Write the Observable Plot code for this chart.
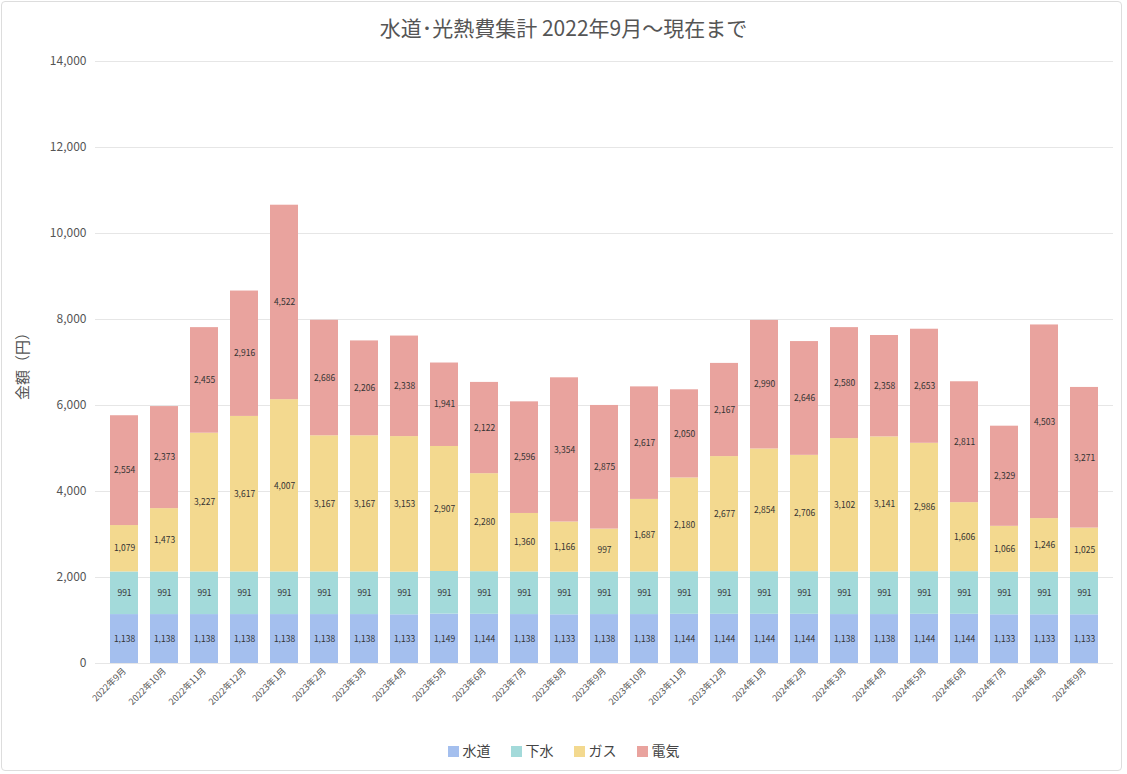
<!DOCTYPE html>
<html><head><meta charset="utf-8">
<script src="https://cdn.jsdelivr.net/npm/d3@7"></script>
<script src="https://cdn.jsdelivr.net/npm/@observablehq/plot@0.6"></script>
<style>
body{margin:0;font-family:"Noto Sans CJK JP","Noto Sans",sans-serif;background:#fff}
#wrap{position:absolute;left:1px;top:1px;width:1121px;height:770px;border:1px solid #ddd;border-radius:4px;box-sizing:border-box}
#title{position:absolute;left:0;top:12px;width:1127px;text-align:center;font-size:21px;color:#555}
#chart{position:absolute;left:0;top:45px}
#legend{position:absolute;left:0;top:740px;width:1127px;text-align:center;font-size:14px;color:#444}
#legend span{margin:0 10px}
#legend i{display:inline-block;width:11px;height:11px;margin-right:4px;vertical-align:-1px}
</style></head><body>
<div id="wrap"></div>
<div id="title">水道･光熱費集計 2022年9月～現在まで</div>
<div id="chart"></div>
<div id="legend"></div>
<script>
const months=["2022年9月","2022年10月","2022年11月","2022年12月","2023年1月","2023年2月","2023年3月","2023年4月","2023年5月","2023年6月","2023年7月","2023年8月","2023年9月","2023年10月","2023年11月","2023年12月","2024年1月","2024年2月","2024年3月","2024年4月","2024年5月","2024年6月","2024年7月","2024年8月","2024年9月"];
const series=["水道","下水","ガス","電気"];
const colors=["#a4bfee","#a3dada","#f3d98f","#e9a39e"];
const suido=[1138,1138,1138,1138,1138,1138,1138,1133,1149,1144,1138,1133,1138,1138,1144,1144,1144,1144,1138,1138,1144,1144,1133,1133,1133];
const gesui=[991,991,991,991,991,991,991,991,991,991,991,991,991,991,991,991,991,991,991,991,991,991,991,991,991];
const gas=[1079,1473,3227,3617,4007,3167,3167,3153,2907,2280,1360,1166,997,1687,2180,2677,2854,2706,3102,3141,2986,1606,1066,1246,1025];
const denki=[2554,2373,2455,2916,4522,2686,2206,2338,1941,2122,2596,3354,2875,2617,2050,2167,2990,2646,2580,2358,2653,2811,2329,4503,3271];
const vals=[suido,gesui,gas,denki];
const data=[];
series.forEach((s,i)=>months.forEach((m,j)=>data.push({month:m,type:s,value:vals[i][j]})));
const fmt=d3.format(",");
const chart=Plot.plot({
  width:1127,height:683,marginLeft:95,marginRight:14,marginTop:16,marginBottom:65,
  style:{fontFamily:"'Noto Sans CJK JP',sans-serif",color:"#555"},
  x:{domain:months,padding:0.3,label:null,tickSize:0,tickRotate:-45,tickPadding:6},
  y:{domain:[0,14000],ticks:d3.range(0,14001,2000),grid:true,label:"金額（円）",labelAnchor:"center",labelArrow:"none",tickSize:0,tickFormat:fmt,labelOffset:78},
  color:{domain:series,range:colors},
  marks:[
    Plot.barY(data,{x:"month",y:"value",fill:"type",order:series}),
    Plot.text(data,Plot.stackY({x:"month",y:"value",z:"type",order:series,text:d=>fmt(d.value),fontSize:8.5,fill:"#333"}))
  ]
});
chart.querySelectorAll("[aria-label='y-axis tick label'] text").forEach(t=>t.setAttribute("font-size","12"));
chart.querySelectorAll("[aria-label='x-axis tick label'] text").forEach(t=>t.setAttribute("font-size","9"));
const yl=chart.querySelector("[aria-label='y-axis label'] text"); if(yl){yl.setAttribute("font-size","15");}
chart.querySelectorAll("[aria-label='y-grid'] line").forEach(l=>{l.setAttribute("stroke","#e6e6e6");l.setAttribute("stroke-opacity","1");});
document.getElementById("chart").append(chart);
document.getElementById("legend").innerHTML=series.map((s,i)=>`<span><i style="background:${colors[i]}"></i>${s}</span>`).join("");
</script></body></html>
